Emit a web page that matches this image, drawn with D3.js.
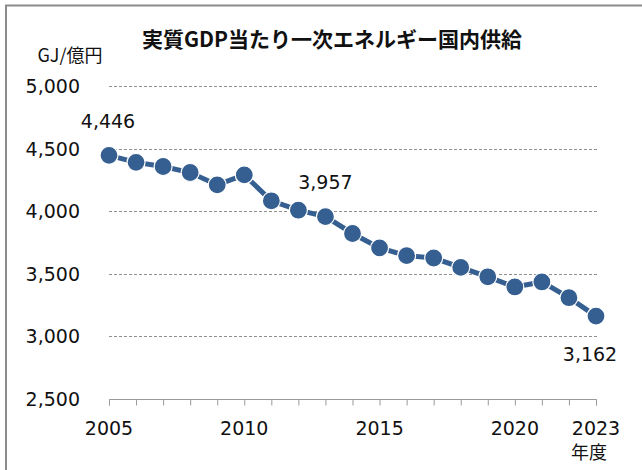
<!DOCTYPE html>
<html><head><meta charset="utf-8">
<script src="https://cdn.jsdelivr.net/npm/d3@7"></script>
<style>body{margin:0;background:#fff}svg{display:block}</style>
</head><body>
<svg id="c" width="642" height="470"></svg>
<script>
const years = [2005,2006,2007,2008,2009,2010,2011,2012,2013,2014,2015,2016,2017,2018,2019,2020,2021,2022,2023];
const values = [4446,4390,4357,4309,4210,4290,4083,4008,3957,3822,3707,3645,3626,3551,3476,3395,3435,3309,3162];
const yTicks = [2500,3000,3500,4000,4500,5000];
const xLabelYears = [2005,2010,2015,2020,2023];
const labeledYears = [2005,2013,2023];
const title = "実質GDP当たり一次エネルギー国内供給";
const yUnit = "GJ/億円";
const xUnit = "年度";

const svg = d3.select("#c");
const num = "'DejaVu Sans', Verdana, sans-serif";
const jp = "'Noto Sans CJK JP', sans-serif";
const fmt = d3.format(",");

const x = d3.scalePoint().domain(years).range([109, 596]);
const y = d3.scaleLinear().domain([2500, 5000]).range([399, 86]);

// border
svg.append("path").attr("d","M6,470 L6,5.5 L642,5.5").attr("fill","none").attr("stroke","#8c8c8c").attr("stroke-width",2);

// gridlines
svg.append("g").selectAll("line").data(yTicks.filter(d=>d>2500)).join("line")
  .attr("x1",109).attr("x2",597).attr("y1",d=>Math.round(y(d))+0.5).attr("y2",d=>Math.round(y(d))+0.5)
  .attr("stroke","#8f8f8f").attr("stroke-width",1).attr("stroke-dasharray","3,2");

// y labels
svg.append("g").selectAll("text").data(yTicks).join("text")
  .attr("x",80).attr("y",d=>y(d)+7).attr("text-anchor","end")
  .attr("font-family",num).attr("font-size",19).attr("fill","#111").text(d=>fmt(d));

// x axis
const xa = svg.append("g").attr("transform","translate(0,399.5)")
  .call(d3.axisBottom(x).tickSize(6).tickFormat(""));
xa.select(".domain").attr("stroke","#9a9a9a").attr("d","M109.5,6V0H596.5V6");
xa.selectAll(".tick line").attr("stroke","#9a9a9a");

svg.append("g").selectAll("text").data(xLabelYears).join("text")
  .attr("x",d=>x(d)).attr("y",435).attr("text-anchor","middle")
  .attr("font-family",num).attr("font-size",19).attr("fill","#111").text(d=>d);

svg.append("text").attr("x",589).attr("y",459).attr("text-anchor","middle")
  .attr("font-family",jp).attr("font-size",18).attr("fill","#111").text(xUnit);

svg.append("text").attr("x",70).attr("y",62).attr("text-anchor","middle")
  .attr("font-family",jp).attr("font-size",18).attr("fill","#111").text(yUnit);

svg.append("text").attr("x",332).attr("y",47).attr("text-anchor","middle")
  .attr("font-family",jp).attr("font-weight","bold").attr("font-size",21).attr("fill","#111").text(title);

// line
const data = years.map((yr,i)=>({yr, v: values[i]}));
svg.append("path").datum(data)
  .attr("d", d3.line().x(d=>x(d.yr)).y(d=>y(d.v)))
  .attr("fill","none").attr("stroke","#365f91").attr("stroke-width",5);

svg.append("g").selectAll("circle").data(data).join("circle")
  .attr("cx",d=>x(d.yr)).attr("cy",d=>y(d.v)).attr("r",9)
  .attr("fill","#365f91").attr("stroke","#fff").attr("stroke-width",1.2);

// data labels
const lab = {2005:{dx:-1,dy:-27},2013:{dx:0,dy:-28},2023:{dx:-6,dy:45}};
svg.append("g").selectAll("text").data(data.filter(d=>labeledYears.includes(d.yr))).join("text")
  .attr("x",d=>x(d.yr)+lab[d.yr].dx).attr("y",d=>y(d.v)+lab[d.yr].dy)
  .attr("text-anchor","middle").attr("font-family",num).attr("font-size",19).attr("fill","#111")
  .text(d=>fmt(d.v));
</script>
</body></html>
